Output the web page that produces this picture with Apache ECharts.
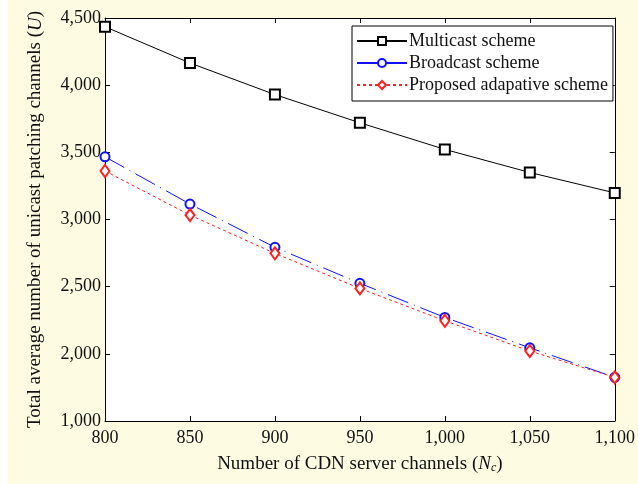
<!DOCTYPE html>
<html>
<head>
<meta charset="utf-8">
<script src="https://cdn.jsdelivr.net/npm/echarts@6/dist/echarts.min.js"></script>
<style>
  html, body { margin: 0; padding: 0; background: #ffffff; }
  #chart { position: absolute; left: 8px; top: 0; width: 630px; height: 484px; background: #fdfce3; }
</style>
</head>
<body>
<div id="chart"></div>
<script>
// x categories: number of CDN server channels
const channels = [800, 850, 900, 950, 1000, 1050, 1100];
// series values
const multicast = [4435, 4165, 3930, 3720, 3522, 3350, 3198];
const broadcast = [3467, 3115, 2793, 2525, 2271, 2045, 1825];
const proposed = [3361, 3033, 2748, 2487, 2246, 2021, 1825];
// y tick labels as printed (bottom to top)
const yTickLabels = ['1,000', '2,000', '2,500', '3,000', '3,500', '4,000', '4,500'];
const xTickLabels = ['800', '850', '900', '950', '1,000', '1,050', '1,100'];

const font = 'Liberation Serif';
const chart = echarts.init(document.getElementById('chart'));

function pairs(ys) {
    return channels.map((x, i) => [x, ys[i]]);
}

const axisLine = { show: true, lineStyle: { color: '#000', width: 1 } };
const axisTick = { show: true, inside: true, length: 5, lineStyle: { color: '#000' } };

const option = {
    backgroundColor: '#fdfce3',
    animation: false,
    textStyle: { fontFamily: font },
    grid: { left: 97, right: 13, top: 18, bottom: 63, backgroundColor: '#fff', show: true, borderWidth: 0 },
    legend: {
        orient: 'vertical',
        left: 344,
        top: 26,
        padding: [6, 5, 7, 4],
        itemGap: 4,
        itemWidth: 50,
        itemHeight: 10,
        backgroundColor: '#fff',
        borderColor: '#000',
        borderWidth: 1,
        borderRadius: 0,
        textStyle: { fontFamily: font, fontSize: 18, color: '#111', padding: [0, 0, 0, -3] },
        data: [
            { name: 'Multicast scheme' },
            { name: 'Broadcast scheme', lineStyle: { type: 'solid' } },
            { name: 'Proposed adapative scheme' }
        ]
    },
    xAxis: [{
        type: 'value',
        min: 800,
        max: 1100,
        interval: 50,
        axisLine: axisLine,
        axisTick: axisTick,
        splitLine: { show: false },
        axisLabel: {
            fontFamily: font, fontSize: 18, color: '#111', margin: 8,
            formatter: (v) => xTickLabels[channels.indexOf(v)]
        },
        name: '{t|Number of CDN server channels (}{i|N}{s|c}{t|)}',
        nameLocation: 'middle',
        nameGap: 33,
        nameTextStyle: {
            rich: {
                t: { fontFamily: font, fontSize: 19, color: '#111' },
                i: { fontFamily: font, fontSize: 19, color: '#111', fontStyle: 'italic' },
                s: { fontFamily: font, fontSize: 12, color: '#111', fontStyle: 'italic', padding: [8, 0, 0, 0] }
            }
        }
    }, {
        type: 'value',
        position: 'top',
        min: 800,
        max: 1100,
        interval: 50,
        axisLine: axisLine,
        axisTick: axisTick,
        axisLabel: { show: false },
        splitLine: { show: false }
    }],
    yAxis: [{
        type: 'value',
        min: 1500,
        max: 4500,
        interval: 500,
        axisLine: axisLine,
        axisTick: axisTick,
        splitLine: { show: false },
        axisLabel: {
            fontFamily: font, fontSize: 18, color: '#111', margin: 4,
            formatter: (v, i) => yTickLabels[i]
        },
        name: '{t|Total average number of unicast patching channels (}{i|U}{t|)}',
        nameLocation: 'middle',
        nameGap: 60,
        nameTextStyle: {
            rich: {
                t: { fontFamily: font, fontSize: 19, color: '#111' },
                i: { fontFamily: font, fontSize: 19, color: '#111', fontStyle: 'italic' }
            }
        }
    }, {
        type: 'value',
        position: 'right',
        min: 1500,
        max: 4500,
        interval: 500,
        axisLine: axisLine,
        axisTick: axisTick,
        axisLabel: { show: false },
        splitLine: { show: false }
    }],
    series: [
        {
            name: 'Multicast scheme',
            type: 'line',
            data: pairs(multicast),
            symbol: 'emptyRect',
            symbolSize: 10,
            lineStyle: { color: '#000', width: 1 },
            itemStyle: { color: '#000', borderWidth: 1 }
        },
        {
            name: 'Broadcast scheme',
            type: 'line',
            data: pairs(broadcast),
            symbol: 'emptyCircle',
            symbolSize: 9,
            lineStyle: { color: '#1010ff', width: 1, type: [22, 6, 1, 6] },
            itemStyle: { color: '#1010ff', borderWidth: 1 }
        },
        {
            name: 'Proposed adapative scheme',
            type: 'line',
            data: pairs(proposed),
            symbol: 'emptyDiamond',
            symbolSize: [9, 12],
            lineStyle: { color: '#ff2020', width: 1, type: [3, 3] },
            itemStyle: { color: '#ff2020', borderWidth: 1 }
        }
    ]
};

chart.setOption(option);
</script>
</body>
</html>
